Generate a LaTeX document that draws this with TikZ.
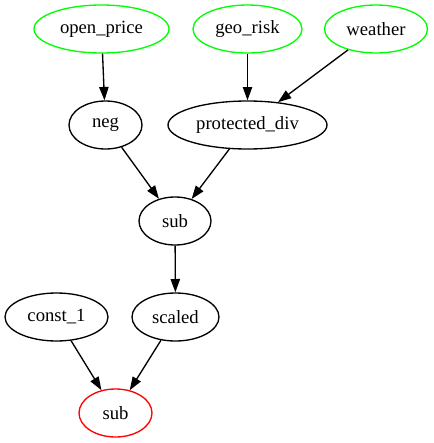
\documentclass[tikz,border=0pt]{standalone}
\usepackage{fontspec}
\setmainfont{Liberation Serif}
\usetikzlibrary{shapes.geometric,arrows.meta}
\definecolor{gvgreen}{RGB}{0,255,0}
\definecolor{gvred}{RGB}{255,0,0}
\begin{document}
\begin{tikzpicture}[x=0.75pt,y=-0.75pt,
  gvnode/.style={ellipse,draw,line width=1pt,inner sep=0pt,minimum height=36pt,
    font=\fontsize{14pt}{16pt}\selectfont},
  feat/.style={gvnode,draw=gvgreen},
  outn/.style={gvnode,draw=gvred},
  edge/.style={line width=1pt,-{Triangle[length=10pt,width=7pt]}}]
\useasboundingbox (0,0) rectangle (433,443);
\node[feat,minimum width=101.25pt] (open) at (101.5,29) {open\_price};
\node[feat,minimum width=81.75pt] (geo) at (247.5,29) {geo\_risk};
\node[feat,minimum width=77.25pt] (weather) at (376,29) {weather};
\node[gvnode,minimum width=54.75pt] (neg) at (105.5,125) {neg};
\node[gvnode,minimum width=119.25pt] (pdiv) at (247.5,125) {protected\_div};
\node[gvnode,minimum width=54pt] (sub1) at (175,221) {sub};
\node[gvnode,minimum width=77.25pt] (const) at (56.5,317) {const\_1};
\node[gvnode,minimum width=65.25pt] (scaled) at (175.5,317) {scaled};
\node[outn,minimum width=54.75pt] (sub2) at (115.5,413) {sub};
\draw[edge] (open) -- (neg);
\draw[edge] (geo) -- (pdiv);
\draw[edge] (weather) -- (pdiv);
\draw[edge] (neg) -- (sub1);
\draw[edge] (pdiv) -- (sub1);
\draw[edge] (sub1) -- (scaled);
\draw[edge] (const) -- (sub2);
\draw[edge] (scaled) -- (sub2);
\end{tikzpicture}
\end{document}
